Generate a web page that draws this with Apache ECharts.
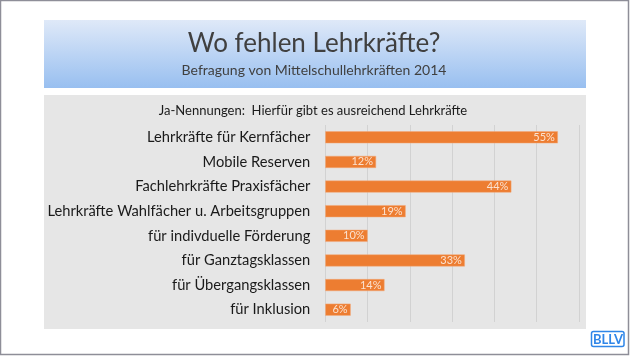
<!DOCTYPE html>
<html><head><meta charset="utf-8">
<script src="https://cdn.jsdelivr.net/npm/echarts@6/dist/echarts.min.js"></script>
<style>html,body{margin:0;padding:0;background:#fff}#c{width:630px;height:356px}</style>
</head><body><div id="c"></div>
<script>
const titleText = 'Wo fehlen Lehrkräfte?';
const subtitleText = 'Befragung von Mittelschullehrkräften 2014';
const innerTitle = 'Ja-Nennungen:  Hierfür gibt es ausreichend Lehrkräfte';
const categories = ['Lehrkräfte für Kernfächer','Mobile Reserven','Fachlehrkräfte Praxisfächer','Lehrkräfte Wahlfächer u. Arbeitsgruppen','für indivduelle Förderung','für Ganztagsklassen','für Übergangsklassen','für Inklusion'];
const values = [55,12,44,19,10,33,14,6];
const axisMax = 60;
const axisStep = 10;
const logoText = 'BLLV';

const FONT = 'Lato';
const chart = echarts.init(document.getElementById('c'), null, {renderer:'canvas'});
chart.setOption({
  animation:false,
  backgroundColor:'#ffffff',
  graphic:[
    {type:'rect', z:-10, shape:{x:0.5,y:0.5,width:628,height:354}, style:{fill:'#fff',stroke:'#8e8e98',lineWidth:1.5}},
    {type:'rect', z:-9, shape:{x:44,y:20,width:542,height:68}, style:{fill:new echarts.graphic.LinearGradient(0,0,0,1,[{offset:0,color:'#dfe9f8'},{offset:1,color:'#98bff0'}])}},
    {type:'rect', z:-9, shape:{x:44,y:95,width:542,height:234}, style:{fill:'#e6e6e6'}},
    {type:'text', z:5, x:314, y:44, style:{text:titleText, font:'26px '+FONT, fill:'#404040', textAlign:'center', textVerticalAlign:'middle'}},
    {type:'text', z:5, x:314, y:70, style:{text:subtitleText, font:'14px '+FONT, fill:'#404040', textAlign:'center', textVerticalAlign:'middle'}},
    {type:'text', z:5, x:313, y:111, style:{text:innerTitle, font:'13px '+FONT, fill:'#1a1a1a', textAlign:'center', textVerticalAlign:'middle'}},
    {type:'rect', z:5, shape:{x:591.5,y:331.5,width:32.5,height:15,r:2}, style:{fill:'#fff',stroke:'#2f86e8',lineWidth:1.5}},
    {type:'text', z:6, x:608, y:339.5, style:{text:logoText, font:'bold 13px '+FONT, fill:'#2f86e8', textAlign:'center', textVerticalAlign:'middle'}}
  ],
  grid:{left:325.3, top:125, width:253.7, height:197, containLabel:false},
  xAxis:{type:'value', min:0, max:axisMax, interval:axisStep,
    axisLabel:{show:false}, axisLine:{show:false}, axisTick:{show:false},
    splitLine:{show:true, lineStyle:{color:'#d2d2d2', width:1}}},
  yAxis:{type:'category', data:categories, inverse:true,
    axisLine:{show:false}, axisTick:{show:false},
    axisLabel:{margin:15, color:'#1a1a1a', fontSize:14.7, fontFamily:FONT}},
  series:[{type:'bar', data:values, barWidth:12,
    itemStyle:{color:'#ed7d31', borderColor:'#f3a978', borderWidth:0.5},
    label:{show:true, position:'insideRight', offset:[2,0], formatter:'{c}%', color:'#fbe2d0', fontSize:11, fontFamily:FONT}}]
});
</script></body></html>
